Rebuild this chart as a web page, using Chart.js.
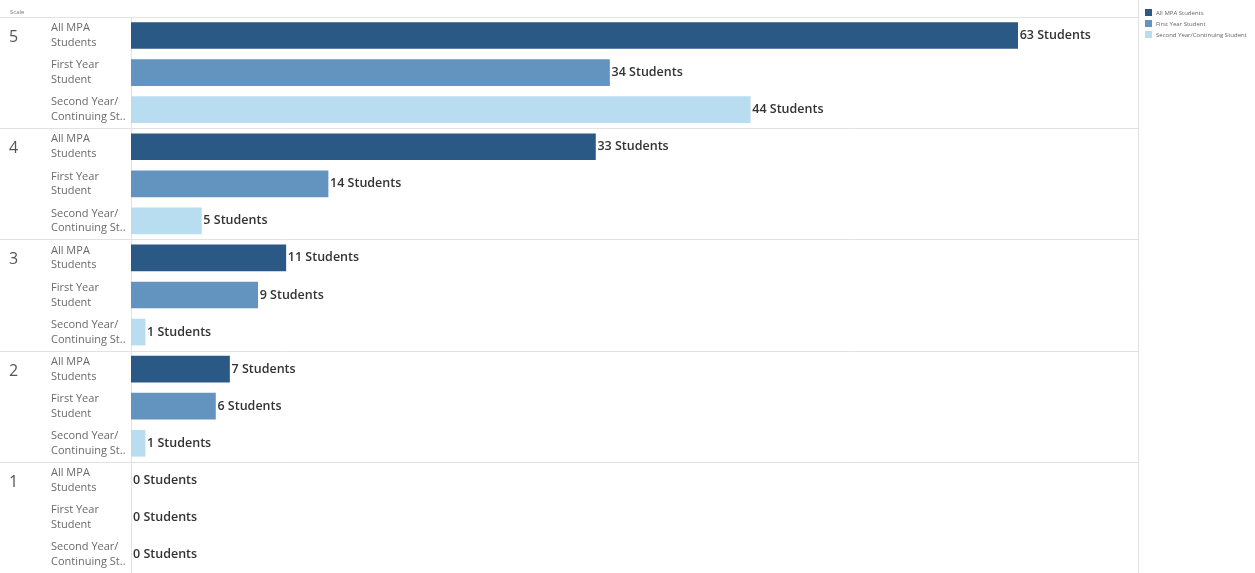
<!DOCTYPE html>
<html>
<head>
<meta charset="utf-8">
<script src="https://cdn.jsdelivr.net/npm/chart.js@4"></script>
<style>
  html, body { margin: 0; padding: 0; background: #fff; }
  #wrap { position: relative; width: 1255px; height: 573px; }
</style>
</head>
<body>
<div id="wrap"><canvas id="scale-chart"></canvas></div>
<script>
// Scale groups (top to bottom) and the three student groups inside each
var scaleLevels = ["5", "4", "3", "2", "1"];
var groupLabels = [
  ["All MPA", "Students"],
  ["First Year", "Student"],
  ["Second Year/", "Continuing St.."]
];
var seriesNames = ["All MPA Students", "First Year Student", "Second Year/Continuing Student"];

// Student counts per scale level
var allMpa = [63, 33, 11, 7, 0];
var firstYear = [34, 14, 9, 6, 0];
var secondYear = [44, 5, 1, 1, 0];

var colors = ["#2b5985", "#6394bf", "#b8ddf1"];

// one row per (scale level, group)
var labels = [];
scaleLevels.forEach(function () {
  groupLabels.forEach(function (g) { labels.push(g); });
});

function rowData(values, slot) {
  var out = [];
  values.forEach(function (v) {
    for (var k = 0; k < 3; k++) out.push(k === slot ? v : null);
  });
  return out;
}

var seriesValues = [allMpa, firstYear, secondYear];
var datasets = seriesValues.map(function (vals, i) {
  return {
    label: seriesNames[i],
    data: rowData(vals, i),
    // zero-length bars are left invisible
    backgroundColor: function (ctx) { return ctx.raw ? colors[i] : "rgba(0,0,0,0)"; },
    barThickness: 26
  };
});

// separators, scale numbers, header and legend
var decorations = {
  id: "decorations",
  beforeDatasetsDraw: function (chart) {
    var c = chart.ctx, area = chart.chartArea, y = chart.scales.y;
    c.save();
    c.strokeStyle = "#e2e2e2";
    c.lineWidth = 1;
    // header line and group separators
    c.beginPath();
    c.moveTo(0, area.top + 0.5); c.lineTo(area.right, area.top + 0.5);
    for (var g = 1; g < scaleLevels.length; g++) {
      var py = Math.round((y.getPixelForTick(g * 3 - 1) + y.getPixelForTick(g * 3)) / 2) + 0.5;
      c.moveTo(0, py); c.lineTo(area.right, py);
    }
    // zero line and right border
    c.moveTo(area.left + 0.5, area.top); c.lineTo(area.left + 0.5, area.bottom);
    c.moveTo(area.right + 0.5, 0); c.lineTo(area.right + 0.5, area.bottom);
    c.stroke();

    // "Scale" header
    c.fillStyle = "#777";
    c.font = "6px 'Open Sans'";
    c.textBaseline = "middle";
    c.fillText("Scale", 10, 12);

    // scale numbers
    c.fillStyle = "#555";
    c.font = "16px 'Open Sans'";
    scaleLevels.forEach(function (s, i) {
      c.fillText(s, 9, y.getPixelForTick(i * 3) + 2);
    });

    // legend
    c.font = "6px 'Open Sans'";
    seriesNames.forEach(function (n, i) {
      var ly = 9 + i * 11;
      c.fillStyle = colors[i];
      c.fillRect(1145, ly, 7, 7);
      c.fillStyle = "#666";
      c.fillText(n, 1156, ly + 4);
    });
    c.restore();
  },
  afterDatasetsDraw: function (chart) {
    var c = chart.ctx;
    c.save();
    c.fillStyle = "#333";
    c.font = "600 12.5px 'Open Sans'";
    c.textBaseline = "middle";
    chart.data.datasets.forEach(function (ds, di) {
      chart.getDatasetMeta(di).data.forEach(function (bar, i) {
        var v = ds.data[i];
        if (v === null) return;
        c.fillText(v + " Students", bar.x + 2, bar.y);
      });
    });
    c.restore();
  }
};

new Chart(document.getElementById("scale-chart").getContext("2d"), {
  type: "bar",
  data: { labels: labels, datasets: datasets },
  plugins: [decorations],
  options: {
    indexAxis: "y",
    responsive: true,
    maintainAspectRatio: false,
    animation: false,
    layout: { padding: { left: 51, right: 117, top: 17, bottom: 0 } },
    plugins: {
      legend: { display: false },
      tooltip: { enabled: false }
    },
    scales: {
      x: { display: false, stacked: true, min: 0, max: 71.55 },
      y: {
        stacked: true,
        border: { display: false },
        grid: { display: false },
        afterFit: function (scale) {
          scale.width = 80;
          scale.paddingTop = 0;
          scale.paddingBottom = 0;
        },
        ticks: {
          crossAlign: "far",
          color: "#6a6a6a",
          padding: 0,
          font: { family: "'Open Sans'", size: 11, lineHeight: 1.35 }
        }
      }
    }
  }
});
</script>
</body>
</html>
